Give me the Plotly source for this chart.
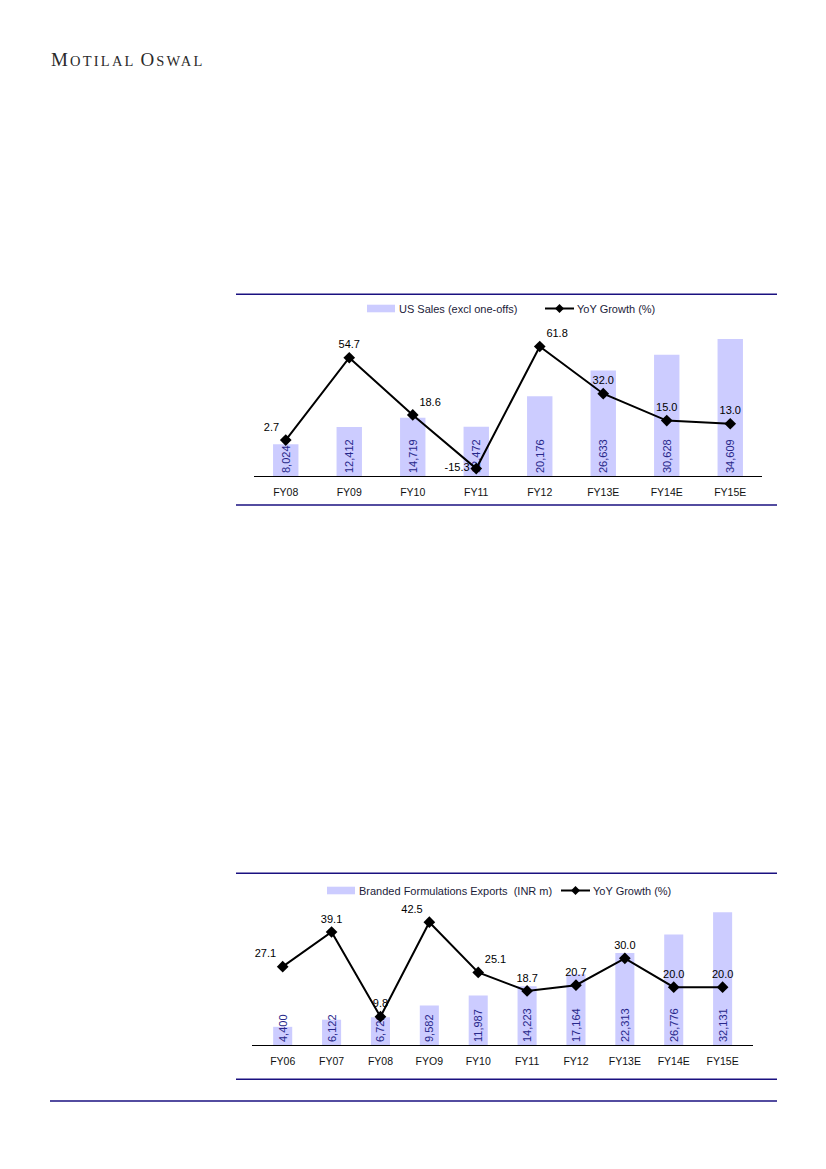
import plotly.graph_objects as go

# page is 826x1169; the html body adds an 8px margin, so the figure is 8px smaller on each side
PAGE_OFF = 8
W, H = 826 - 2 * PAGE_OFF, 1169 - PAGE_OFF

# ---------------- data ----------------
us_years = ["FY08", "FY09", "FY10", "FY11", "FY12", "FY13E", "FY14E", "FY15E"]
us_sales = [8024, 12412, 14719, 12472, 20176, 26633, 30628, 34609]
us_growth = [2.7, 54.7, 18.6, -15.3, 61.8, 32.0, 15.0, 13.0]
us_label_pos = ["top left", "top center", "top right", "middle left",
                "top right", "top center", "top center", "top center"]

bf_years = ["FY06", "FY07", "FY08", "FYO9", "FY10", "FY11", "FY12", "FY13E", "FY14E", "FY15E"]
bf_exports = [4400, 6122, 6722, 9582, 11987, 14223, 17164, 22313, 26776, 32131]
bf_growth = [27.1, 39.1, 9.8, 42.5, 25.1, 18.7, 20.7, 30.0, 20.0, 20.0]
bf_label_pos = ["top left", "top center", "top center", "top left", "top right",
                "top center", "top center", "top center", "top center", "top center"]

legend1 = ["US Sales (excl one-offs)", "YoY Growth (%)"]
legend2 = ["Branded Formulations Exports  (INR m)", "YoY Growth (%)"]

# ---------------- style ----------------
BAR_COLOR = "#CCCCFF"
BAR_TEXT = "#27278A"
NAVY = "#1A1080"
FONT = "Liberation Sans"


def px(x):
    """page pixel x -> paper fraction"""
    return (x - PAGE_OFF) / W


def py(y):
    """page pixel y -> paper fraction"""
    return 1 - (y - PAGE_OFF) / H


fig = go.Figure()

# Chart 1
fig.add_trace(go.Bar(
    x=us_years, y=us_sales, xaxis="x", yaxis="y", width=0.4,
    marker=dict(color=BAR_COLOR, line=dict(width=0)),
    texttemplate="%{y:,.0f}", textposition="inside", insidetextanchor="start",
    textangle=-90, constraintext="none",
    insidetextfont=dict(family=FONT, size=11, color=BAR_TEXT),
    showlegend=False, hoverinfo="skip",
))
fig.add_trace(go.Scatter(
    x=us_years, y=us_growth, xaxis="x", yaxis="y2", mode="lines+markers+text",
    line=dict(color="black", width=2),
    marker=dict(symbol="diamond", size=9, color="black"),
    text=[f"{v:.1f}" for v in us_growth], textposition=us_label_pos,
    textfont=dict(family=FONT, size=11, color="black"),
    showlegend=False, hoverinfo="skip", cliponaxis=False,
))

# Chart 2
fig.add_trace(go.Bar(
    x=bf_years, y=bf_exports, xaxis="x2", yaxis="y3", width=0.39,
    marker=dict(color=BAR_COLOR, line=dict(width=0)),
    texttemplate="%{y:,.0f}", textposition="inside", insidetextanchor="start",
    textangle=-90, constraintext="none",
    insidetextfont=dict(family=FONT, size=11, color=BAR_TEXT),
    showlegend=False, hoverinfo="skip",
))
fig.add_trace(go.Scatter(
    x=bf_years, y=bf_growth, xaxis="x2", yaxis="y4", mode="lines+markers+text",
    line=dict(color="black", width=2),
    marker=dict(symbol="diamond", size=9, color="black"),
    text=[f"{v:.1f}" for v in bf_growth], textposition=bf_label_pos,
    textfont=dict(family=FONT, size=11, color="black"),
    showlegend=False, hoverinfo="skip", cliponaxis=False,
))

xcommon = dict(type="category", showgrid=False, zeroline=False, showline=True,
               linecolor="black", linewidth=1, ticks="", ticklabelstandoff=6,
               tickfont=dict(family=FONT, size=10.5, color="#111111"))
ycommon = dict(visible=False, showgrid=False, zeroline=False)

fig.update_layout(
    width=W, height=H, margin=dict(l=0, r=0, t=0, b=0),
    paper_bgcolor="white", plot_bgcolor="rgba(0,0,0,0)",
    showlegend=False,
    xaxis=dict(domain=[px(254), px(762)], anchor="y", **xcommon),
    yaxis=dict(domain=[py(476), py(317.7)], range=[0, 40000], anchor="x", **ycommon),
    yaxis2=dict(overlaying="y", range=[-20, 80], anchor="x", **ycommon),
    xaxis2=dict(domain=[px(252), px(753.3)], anchor="y3", **xcommon),
    yaxis3=dict(domain=[py(1045), py(900.5)], range=[0, 35000], anchor="x2", **ycommon),
    yaxis4=dict(overlaying="y3", range=[0, 50], anchor="x2", **ycommon),
)

shapes = []
annotations = []

# chart frame lines and page rule
for yy in (294.3, 505, 873.3, 1079.3):
    shapes.append(dict(type="line", xref="paper", yref="paper",
                       x0=px(236), x1=px(777), y0=py(yy), y1=py(yy),
                       line=dict(color=NAVY, width=1.4)))
shapes.append(dict(type="line", xref="paper", yref="paper",
                   x0=px(50), x1=px(777), y0=py(1101), y1=py(1101),
                   line=dict(color=NAVY, width=1.6)))


def add_legend(ycen, sw_x0, bar_label, line_x0, line_label):
    # bar swatch
    shapes.append(dict(type="rect", xref="paper", yref="paper",
                       x0=px(sw_x0), x1=px(sw_x0 + 28), y0=py(ycen + 3.8), y1=py(ycen - 3.8),
                       fillcolor=BAR_COLOR, line=dict(width=0)))
    annotations.append(dict(xref="paper", yref="paper", x=px(sw_x0 + 30), y=py(ycen),
                            xanchor="left", yanchor="middle", showarrow=False,
                            text=bar_label, font=dict(family=FONT, size=11, color="#1c1c3a")))
    # line swatch
    shapes.append(dict(type="line", xref="paper", yref="paper",
                       x0=px(line_x0), x1=px(line_x0 + 29), y0=py(ycen), y1=py(ycen),
                       line=dict(color="black", width=2)))
    shapes.append(dict(type="path", xref="paper", yref="paper",
                       xsizemode="pixel", ysizemode="pixel",
                       xanchor=px(line_x0 + 14.5), yanchor=py(ycen),
                       path="M -4.5,0 L 0,4.5 L 4.5,0 L 0,-4.5 Z",
                       fillcolor="black", line=dict(width=0)))
    annotations.append(dict(xref="paper", yref="paper", x=px(line_x0 + 30), y=py(ycen),
                            xanchor="left", yanchor="middle", showarrow=False,
                            text=line_label, font=dict(family=FONT, size=11, color="#1c1c3a")))


add_legend(308.5, 367, legend1[0], 545, legend1[1])
add_legend(890.5, 327, legend2[0], 561, legend2[1])

# header logo (small caps, letter-spaced)
LS = "letter-spacing:2.2px"
sc = f"font-size:14.5px;{LS}"
annotations.append(dict(
    xref="paper", yref="paper", x=px(49), y=py(59), xanchor="left", yanchor="middle",
    showarrow=False,
    text=(f"<span style='{LS}'>M</span><span style='{sc}'>OTILAL</span> "
          f"<span style='{LS}'>O</span><span style='{sc}'>SWAL</span>"),
    font=dict(family="Liberation Serif", size=19, color="#2a2a2a"),
))

fig.update_layout(shapes=shapes, annotations=annotations)

fig.write_html("out.html")
